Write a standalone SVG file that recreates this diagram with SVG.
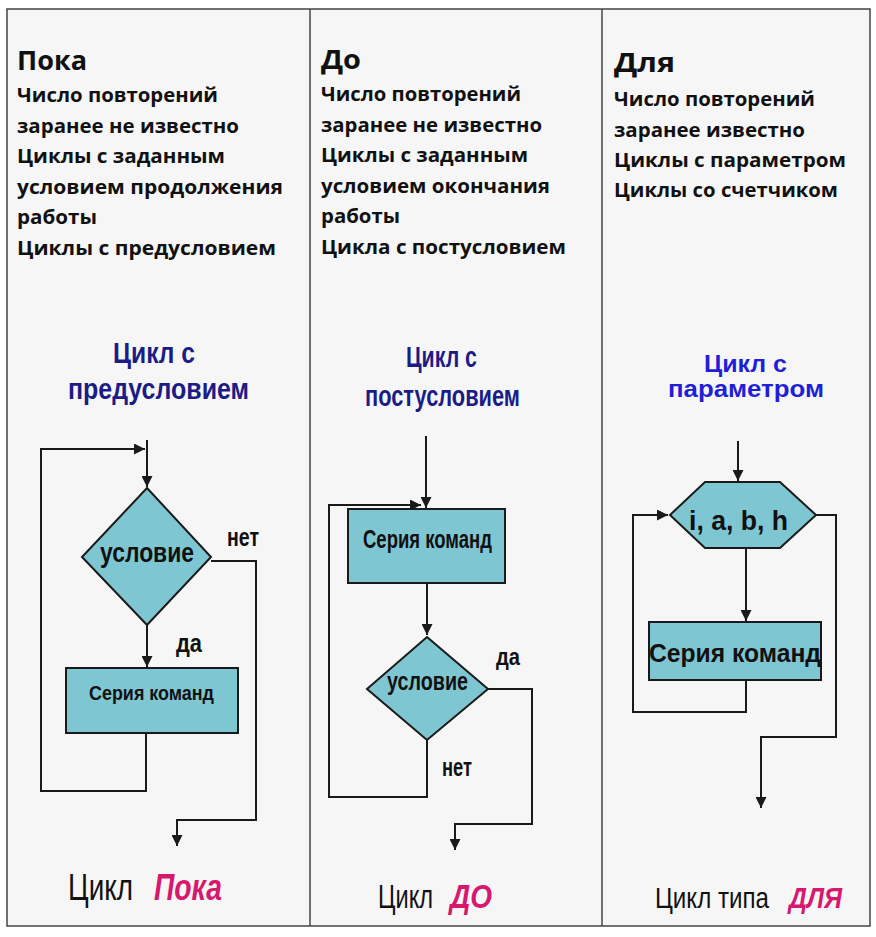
<svg xmlns="http://www.w3.org/2000/svg" width="876" height="937" viewBox="0 0 876 937">
<style>
.hd{font-family:"Open Sans","Noto Sans",sans-serif;font-weight:bold;fill:#111}
.h1{font-size:27px}
.h2{font-size:19px}
.ttl{font-family:"Liberation Sans",Arial,sans-serif;font-weight:bold;fill:#1c1c86;font-size:30px}
.ttl3{font-family:"Liberation Sans",Arial,sans-serif;font-weight:bold;fill:#1f1fd8;font-size:23px}
.lbl{font-family:"Liberation Sans",Arial,sans-serif;font-weight:bold;fill:#111}
.cap{font-family:"Liberation Sans",Arial,sans-serif;fill:#111}
.pink{font-family:"Liberation Sans",Arial,sans-serif;font-weight:bold;font-style:italic;fill:#d6186e}
.shape{fill:#7ec6d2;stroke:#1a1a1a;stroke-width:2}
.ln{fill:none;stroke:#1a1a1a;stroke-width:2}
.frame{fill:none;stroke:#444;stroke-width:1.5}
</style>
<defs>
<marker id="ah" viewBox="0 0 10 10" refX="10" refY="5" markerWidth="5.5" markerHeight="5.5" orient="auto" markerUnits="strokeWidth">
<path d="M0,0 L10,5 L0,10 z" fill="#1a1a1a"/>
</marker>
</defs>
<rect x="0" y="0" width="876" height="937" fill="#ffffff"/>
<rect x="7" y="9" width="863" height="917" fill="#f6f6f6"/>
<g id="frame">
<rect class="frame" x="7" y="9" width="863" height="917"/>
<line class="frame" x1="310" y1="9" x2="310" y2="926"/>
<line class="frame" x1="602" y1="9" x2="602" y2="926"/>
</g>

<g id="col1-text">
<text class="hd h1" x="17" y="70" textLength="70" lengthAdjust="spacingAndGlyphs">Пока</text>
<text class="hd h2" x="17" y="102" textLength="201" lengthAdjust="spacingAndGlyphs">Число повторений</text>
<text class="hd h2" x="17" y="133" textLength="222" lengthAdjust="spacingAndGlyphs">заранее не известно</text>
<text class="hd h2" x="17" y="163" textLength="208" lengthAdjust="spacingAndGlyphs">Циклы с заданным</text>
<text class="hd h2" x="17" y="194" textLength="266" lengthAdjust="spacingAndGlyphs">условием продолжения</text>
<text class="hd h2" x="17" y="224" textLength="80" lengthAdjust="spacingAndGlyphs">работы</text>
<text class="hd h2" x="17" y="255" textLength="259" lengthAdjust="spacingAndGlyphs">Циклы с предусловием</text>
</g>
<g id="col2-text">
<text class="hd h1" x="321" y="69" textLength="40" lengthAdjust="spacingAndGlyphs">До</text>
<text class="hd h2" x="321" y="101" textLength="200" lengthAdjust="spacingAndGlyphs">Число повторений</text>
<text class="hd h2" x="321" y="132" textLength="221" lengthAdjust="spacingAndGlyphs">заранее не известно</text>
<text class="hd h2" x="321" y="162" textLength="207" lengthAdjust="spacingAndGlyphs">Циклы с заданным</text>
<text class="hd h2" x="321" y="193" textLength="229" lengthAdjust="spacingAndGlyphs">условием окончания</text>
<text class="hd h2" x="321" y="223" textLength="79" lengthAdjust="spacingAndGlyphs">работы</text>
<text class="hd h2" x="321" y="254" textLength="245" lengthAdjust="spacingAndGlyphs">Цикла с постусловием</text>
</g>
<g id="col3-text">
<text class="hd h1" x="614" y="72" textLength="61" lengthAdjust="spacingAndGlyphs">Для</text>
<text class="hd h2" x="614" y="106" textLength="201" lengthAdjust="spacingAndGlyphs">Число повторений</text>
<text class="hd h2" x="614" y="137" textLength="191" lengthAdjust="spacingAndGlyphs">заранее известно</text>
<text class="hd h2" x="614" y="167" textLength="232" lengthAdjust="spacingAndGlyphs">Циклы с параметром</text>
<text class="hd h2" x="614" y="197" textLength="224" lengthAdjust="spacingAndGlyphs">Циклы со счетчиком</text>
</g>

<g id="titles">
<text class="ttl" x="113" y="363" textLength="82" lengthAdjust="spacingAndGlyphs">Цикл с</text>
<text class="ttl" x="68" y="399" textLength="181" lengthAdjust="spacingAndGlyphs">предусловием</text>
<text class="ttl" x="406" y="367" textLength="71" lengthAdjust="spacingAndGlyphs">Цикл с</text>
<text class="ttl" x="365" y="406" textLength="155" lengthAdjust="spacingAndGlyphs">постусловием</text>
<text class="ttl3" x="704" y="372" textLength="83" lengthAdjust="spacingAndGlyphs">Цикл с</text>
<text class="ttl3" x="668" y="397" textLength="156" lengthAdjust="spacingAndGlyphs">параметром</text>
</g>

<g id="connectors">
<polyline class="ln" points="146,733 146,791 41,791 41,449 145,449" marker-end="url(#ah)"/>
<line class="ln" x1="147" y1="440" x2="147" y2="487" marker-end="url(#ah)"/>
<line class="ln" x1="147" y1="625" x2="147" y2="667" marker-end="url(#ah)"/>
<polyline class="ln" points="211,561 256,561 256,820 177,820 177,846" marker-end="url(#ah)"/>
<line class="ln" x1="426" y1="436" x2="426" y2="508" marker-end="url(#ah)"/>
<polyline class="ln" points="427,740 427,797 329,797 329,505 421,505" marker-end="url(#ah)"/>
<line class="ln" x1="427" y1="583" x2="427" y2="635" marker-end="url(#ah)"/>
<polyline class="ln" points="488,689 532,689 532,824 455,824 455,850" marker-end="url(#ah)"/>
<line class="ln" x1="738" y1="441" x2="738" y2="481" marker-end="url(#ah)"/>
<line class="ln" x1="746" y1="548" x2="746" y2="621" marker-end="url(#ah)"/>
<polyline class="ln" points="746,680 746,712 633,712 633,515 668,515" marker-end="url(#ah)"/>
<polyline class="ln" points="816,515 836,515 836,737 761,737 761,808" marker-end="url(#ah)"/>
</g>

<g id="n1-cond">
<polygon class="shape" points="147,488 211,557 147,625 82,557"/>
<text class="lbl" x="100" y="562" font-size="28" textLength="94" lengthAdjust="spacingAndGlyphs">условие</text>
</g>
<g id="n1-body">
<rect class="shape" x="66" y="668" width="172" height="65"/>
<text class="lbl" x="89" y="700" font-size="20" textLength="125" lengthAdjust="spacingAndGlyphs">Серия команд</text>
</g>
<g id="n1-labels">
<text class="lbl" x="227" y="546" font-size="26" textLength="32" lengthAdjust="spacingAndGlyphs">нет</text>
<text class="lbl" x="176" y="652" font-size="26" textLength="26" lengthAdjust="spacingAndGlyphs">да</text>
<text class="cap" x="68" y="900" font-size="36" textLength="65" lengthAdjust="spacingAndGlyphs">Цикл</text>
<text class="pink" x="154" y="900" font-size="36" textLength="68" lengthAdjust="spacingAndGlyphs">Пока</text>
</g>

<g id="n2-body">
<rect class="shape" x="348" y="509" width="157" height="74"/>
<text class="lbl" x="363" y="548" font-size="25" textLength="129" lengthAdjust="spacingAndGlyphs">Серия команд</text>
</g>
<g id="n2-cond">
<polygon class="shape" points="427,637 488,689 427,740 367,689"/>
<text class="lbl" x="387" y="690" font-size="25" textLength="81" lengthAdjust="spacingAndGlyphs">условие</text>
</g>
<g id="n2-labels">
<text class="lbl" x="496" y="665" font-size="24" textLength="24" lengthAdjust="spacingAndGlyphs">да</text>
<text class="lbl" x="442" y="776" font-size="25" textLength="30" lengthAdjust="spacingAndGlyphs">нет</text>
<text class="cap" x="378" y="908" font-size="33" textLength="55" lengthAdjust="spacingAndGlyphs">Цикл</text>
<text class="pink" x="450" y="908" font-size="33" textLength="42" lengthAdjust="spacingAndGlyphs">ДО</text>
</g>

<g id="n3-param">
<polygon class="shape" points="670,515 705,482 780,482 816,515 780,548 705,548"/>
<text class="lbl" x="689" y="530" font-size="27" textLength="99" lengthAdjust="spacingAndGlyphs">i, a, b, h</text>
</g>
<g id="n3-body">
<rect class="shape" x="649" y="622" width="172" height="58"/>
<text class="lbl" x="649" y="662" font-size="25" textLength="172" lengthAdjust="spacingAndGlyphs">Серия команд</text>
</g>
<g id="n3-labels">
<text class="cap" x="655" y="908" font-size="29" textLength="114" lengthAdjust="spacingAndGlyphs">Цикл типа</text>
<text class="pink" x="789" y="908" font-size="29" textLength="53" lengthAdjust="spacingAndGlyphs">ДЛЯ</text>
</g>
</svg>
